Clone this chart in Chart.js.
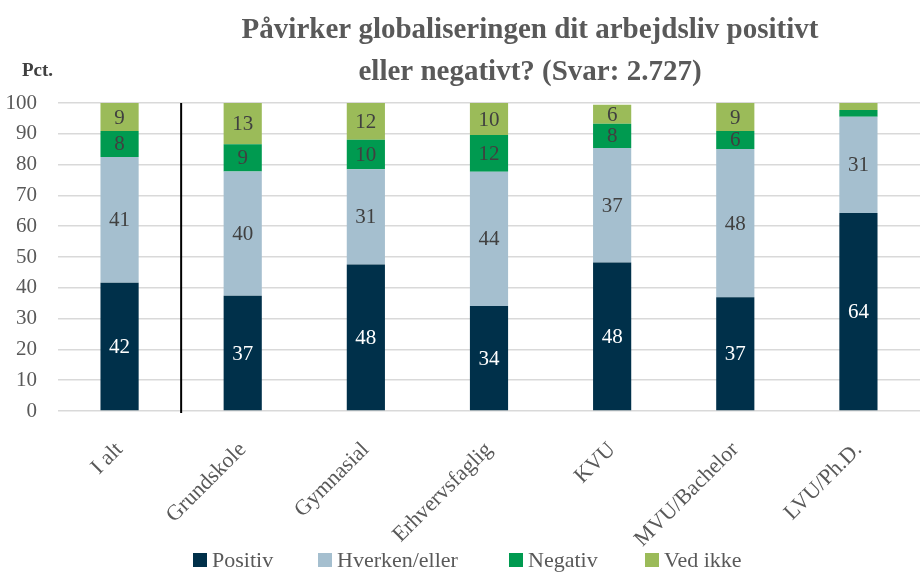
<!DOCTYPE html>
<html>
<head>
<meta charset="utf-8">
<script src="https://cdn.jsdelivr.net/npm/chart.js@4"></script>
<style>
  body { margin: 0; background: #fff; }
  #wrap { width: 920px; height: 573px; }
</style>
</head>
<body>
<div id="wrap"><canvas id="globChart"></canvas></div>
<script>
// shares in pct. (the labels show them rounded)
var categories = ["I alt", "Grundskole", "Gymnasial", "Erhvervsfaglig", "KVU", "MVU/Bachelor", "LVU/Ph.D."];
var positiv  = [41.6, 37.4, 47.6, 34.1, 48.2, 36.9, 64.3];
var hverken  = [40.9, 40.4, 30.9, 43.6, 37.2, 48.2, 31.2];
var negativ  = [8.4, 8.8, 9.6, 11.9, 7.9, 5.8, 2.2];
var vedIkke  = [9.1, 13.4, 11.9, 10.4, 6.1, 9.1, 2.3];
var yTicks = [0, 10, 20, 30, 40, 50, 60, 70, 80, 90, 100];
var titleLines = ["Påvirker globaliseringen dit arbejdsliv positivt", "eller negativt? (Svar: 2.727)"];

var serif = "'Liberation Serif', 'DejaVu Serif', serif";
var grey = '#595959';

// numbers inside the bar segments
var segLabels = {
  id: 'segLabels',
  afterDatasetsDraw: function(chart) {
    var ctx = chart.ctx;
    ctx.save();
    ctx.font = "21px " + serif;
    ctx.textAlign = 'center';
    ctx.textBaseline = 'middle';
    chart.data.datasets.forEach(function(ds, i) {
      var meta = chart.getDatasetMeta(i);
      meta.data.forEach(function(bar, j) {
        var v = ds.data[j];
        if (v < 4) return;
        ctx.fillStyle = i == 0 ? '#ffffff' : '#404040';
        ctx.fillText(Math.round(v), bar.x, (bar.y + bar.base) / 2 + 1);
      });
    });
    ctx.restore();
  }
};

// title, "Pct.", separator line and legend
var extras = {
  id: 'extras',
  afterDraw: function(chart) {
    var ctx = chart.ctx;
    var x = chart.scales.x, y = chart.scales.y;
    var sx = (x.getPixelForValue(0) + x.getPixelForValue(1)) / 2;
    ctx.save();
    ctx.strokeStyle = '#000';
    ctx.lineWidth = 2;
    ctx.beginPath();
    ctx.moveTo(sx, y.top);
    ctx.lineTo(sx, y.bottom + 2);
    ctx.stroke();

    ctx.fillStyle = grey;
    ctx.font = "bold 29px " + serif;
    ctx.textAlign = 'center';
    ctx.fillText(titleLines[0], 530, 38);
    ctx.fillText(titleLines[1], 530, 80);

    ctx.fillStyle = '#404040';
    ctx.font = "bold 19px " + serif;
    ctx.textAlign = 'left';
    ctx.fillText('Pct.', 22, 76);

    var lx = [193, 318, 509, 645];
    ctx.font = "22px " + serif;
    chart.data.datasets.forEach(function(ds, i) {
      ctx.fillStyle = ds.backgroundColor;
      ctx.fillRect(lx[i], 553, 14, 14);
      ctx.fillStyle = grey;
      ctx.fillText(ds.label, lx[i] + 19, 567);
    });
    ctx.restore();
  }
};

new Chart("globChart", {
  type: "bar",
  data: {
    labels: categories,
    datasets: [
      {label: "Positiv", data: positiv, backgroundColor: '#00304a'},
      {label: "Hverken/eller", data: hverken, backgroundColor: '#a5bfcf'},
      {label: "Negativ", data: negativ, backgroundColor: '#009a50'},
      {label: "Ved ikke", data: vedIkke, backgroundColor: '#9bbb59'}
    ]
  },
  options: {
    responsive: true,
    maintainAspectRatio: false,
    animation: false,
    datasets: {
      bar: {barPercentage: 0.31, categoryPercentage: 1}
    },
    layout: {padding: {left: 0, right: 0, top: 103, bottom: 0}},
    plugins: {
      legend: {display: false},
      title: {display: false},
      tooltip: {enabled: false}
    },
    scales: {
      x: {
        stacked: true,
        grid: {display: false},
        border: {display: false},
        afterFit: function(axis) { axis.height = 162; },
        ticks: {
          color: grey,
          font: {family: serif, size: 22},
          minRotation: 45,
          maxRotation: 45,
          padding: 18
        }
      },
      y: {
        stacked: true,
        min: 0,
        max: 100,
        afterBuildTicks: function(axis) {
          axis.ticks = yTicks.map(function(v) { return {value: v}; });
        },
        afterFit: function(axis) { axis.width = 58; },
        grid: {color: '#d9d9d9', lineWidth: 1.5, drawTicks: false},
        border: {display: false},
        ticks: {
          color: grey,
          font: {family: serif, size: 21},
          padding: 21
        }
      }
    }
  },
  plugins: [segLabels, extras]
});
</script>
</body>
</html>
